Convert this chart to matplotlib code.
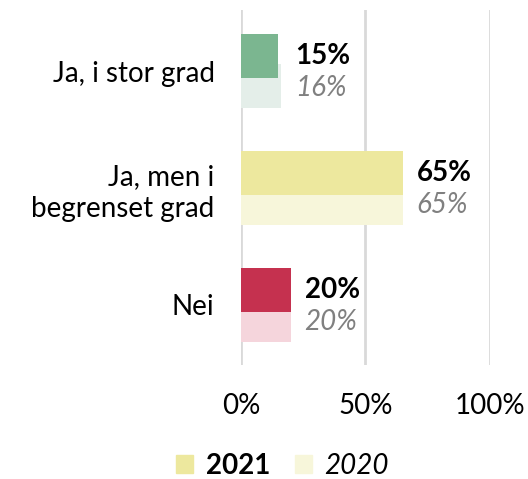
import matplotlib
matplotlib.use('Agg')
import matplotlib.pyplot as plt
from matplotlib.patches import Patch

# ── data ──────────────────────────────────────────────────────────────────────
categories = ['Ja, i stor grad', 'Ja, men i\nbegrenset grad', 'Nei']
values_2021 = [15, 65, 20]
values_2020 = [16, 65, 20]
colors_2021 = ['#7BB690', '#EDE89E', '#C5314F']
colors_2020 = ['#E4EEE9', '#F7F6DA', '#F5D5DC']
xticks = [0, 50, 100]

plt.rcParams['font.family'] = ['Lato', 'DejaVu Sans']
FS = 20

fig = plt.figure(figsize=(5.28, 4.79), dpi=100)
ax = fig.add_axes([0.4564, 0.238, 0.4716, 0.741])

ypos = list(range(len(categories)))
h = 0.376
off = 0.128

# 2020 bars sit behind the 2021 bars, shifted down a little
ax.barh([y + off for y in ypos], values_2020, height=h, color=colors_2020, zorder=2)
ax.barh([y - off for y in ypos], values_2021, height=h, color=colors_2021, zorder=3)

for y, v21, v20 in zip(ypos, values_2021, values_2020):
    xl = max(v21, v20)
    ax.annotate(f'{v21}%', (xl, y - off), xytext=(10, 0), textcoords='offset points',
                ha='left', va='center', fontsize=FS, fontweight='bold', color='black')
    ax.annotate(f'{v20}%', (xl, y + off + 0.02), xytext=(10, 0), textcoords='offset points',
                ha='left', va='center', fontsize=FS, fontstyle='italic', color='#808080')

ax.set_xlim(0, 100)
ax.set_ylim(2.513, -0.521)
ax.set_xticks(xticks)
ax.set_xticklabels([f'{t}%' for t in xticks], fontsize=FS)
ax.set_yticks(ypos)
ax.set_yticklabels(categories, fontsize=FS, linespacing=1.25)
ax.tick_params(axis='both', length=0)
ax.tick_params(axis='x', pad=20)
ax.tick_params(axis='y', pad=19)
ax.grid(axis='x', color='#D9D9D9', lw=2, zorder=0)
ax.set_axisbelow(True)
for s in ax.spines.values():
    s.set_visible(False)

handles = [Patch(color=colors_2021[1]), Patch(color=colors_2020[1])]
leg = fig.legend(handles, ['2021', '2020'], loc='center', bbox_to_anchor=(0.535, 0.028),
                 ncol=2, frameon=False, fontsize=FS, handlelength=0.6, handleheight=0.6,
                 handletextpad=0.45, columnspacing=0.9)
texts = leg.get_texts()
texts[0].set_fontweight('bold')
texts[1].set_fontstyle('italic')

fig.savefig('out.png', dpi=100)
